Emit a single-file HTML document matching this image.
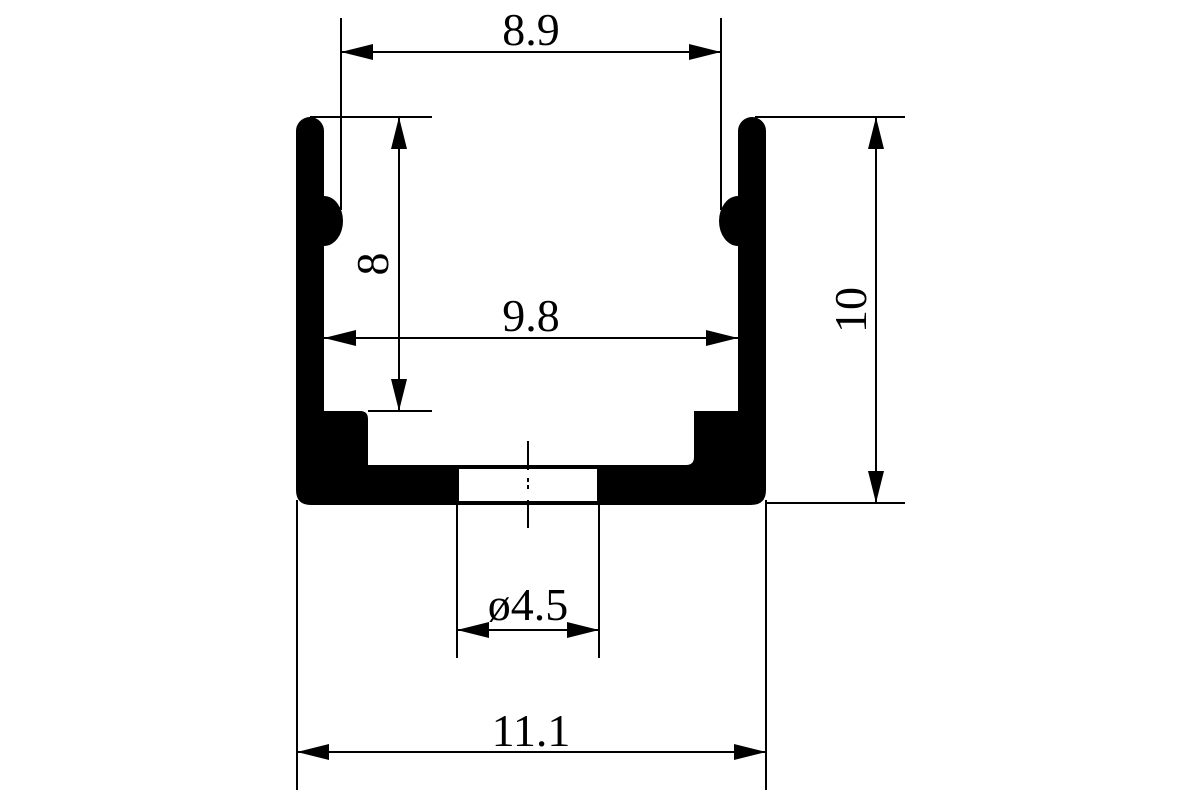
<!DOCTYPE html>
<html><head><style>body{margin:0;background:#fff}svg{display:block}text{font-family:"Liberation Serif",serif;font-size:46px;fill:#000}</style></head><body>
<svg width="1200" height="800" viewBox="0 0 1200 800">
<defs><marker id="a" viewBox="0 0 32 16" refX="32" refY="8" markerWidth="32" markerHeight="16" markerUnits="userSpaceOnUse" orient="auto-start-reverse"><path d="M0,0L32,8L0,16Z"/></marker></defs>
<path d="M296,131 a14,14 0 0 1 28,0 L324,411 L360,411 q8,0 8,8 L368,465 L686,465 q8,0 8,-8 L694,411 L738,411 L738,131 a14,14 0 0 1 28,0 L766,490 q0,15 -15,15 L311,505 q-15,0 -15,-15 Z"/>
<ellipse cx="324" cy="221" rx="19" ry="25"/><ellipse cx="738" cy="221" rx="19" ry="25"/>
<rect x="459" y="469" width="138" height="32" fill="#fff"/>
<g stroke="#000" stroke-width="2" fill="none">
<line x1="341" y1="18" x2="341" y2="210"/><line x1="721" y1="18" x2="721" y2="210"/>
<line x1="341" y1="52" x2="721" y2="52" marker-start="url(#a)" marker-end="url(#a)"/>
<line x1="310" y1="117" x2="432" y2="117"/><line x1="368" y1="411" x2="432" y2="411"/>
<line x1="399" y1="117" x2="399" y2="411" marker-start="url(#a)" marker-end="url(#a)"/>
<line x1="324" y1="338" x2="738" y2="338" marker-start="url(#a)" marker-end="url(#a)"/>
<line x1="755" y1="117" x2="905" y2="117"/><line x1="766" y1="503" x2="905" y2="503"/>
<line x1="876" y1="117" x2="876" y2="503" marker-start="url(#a)" marker-end="url(#a)"/>
<line x1="457" y1="503" x2="457" y2="658"/><line x1="599" y1="503" x2="599" y2="658"/>
<line x1="457" y1="630" x2="599" y2="630" marker-start="url(#a)" marker-end="url(#a)"/>
<line x1="297" y1="500" x2="297" y2="790"/><line x1="766" y1="500" x2="766" y2="790"/>
<line x1="297" y1="752" x2="766" y2="752" marker-start="url(#a)" marker-end="url(#a)"/>
<line x1="528" y1="441" x2="528" y2="470"/><line x1="528" y1="500" x2="528" y2="528"/>
<line x1="528" y1="478" x2="528" y2="492" stroke="#000" stroke-dasharray="4,3"/>
</g>
<text x="531" y="45" text-anchor="middle">8.9</text>
<text transform="translate(388,264) rotate(-90)" text-anchor="middle">8</text>
<text x="531" y="331" text-anchor="middle">9.8</text>
<text transform="translate(866,310) rotate(-90)" text-anchor="middle">10</text>
<text x="528" y="620" text-anchor="middle">ø4.5</text>
<text x="531" y="746" text-anchor="middle">11.1</text>
</svg>
</body></html>
